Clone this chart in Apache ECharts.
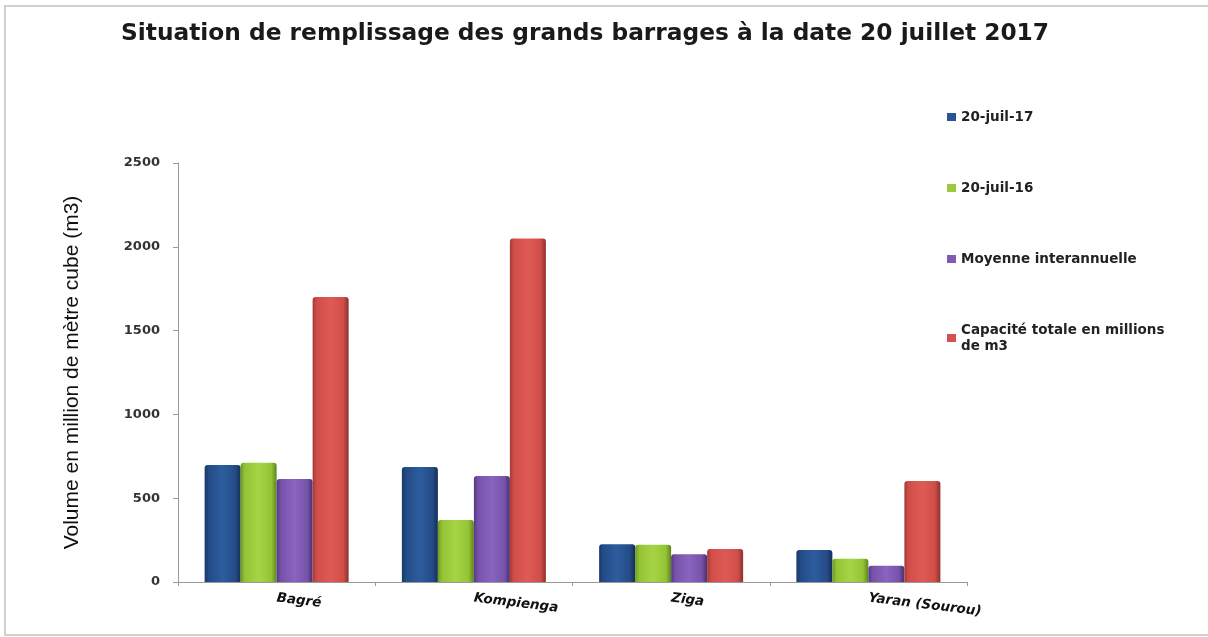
<!DOCTYPE html>
<html>
<head>
<meta charset="utf-8">
<script src="https://cdn.jsdelivr.net/npm/echarts@6/dist/echarts.min.js"></script>
<style>
  html, body { margin: 0; padding: 0; background: #fff; }
  #chart { width: 1208px; height: 637px; }
</style>
</head>
<body>
<div id="chart"></div>
<script>
// Dams and their stored volumes (million m3)
const categories = ['Bagré', 'Kompienga', 'Ziga', 'Yaran (Sourou)'];
const seriesNames = ['20-juil-17', '20-juil-16', 'Moyenne interannuelle', 'Capacité totale en millions de m3'];
const juil17 = [698, 686, 225, 191];
const juil16 = [712, 370, 222, 139];
const moyenne = [614, 632, 165, 97];
const capacite = [1700, 2050, 197, 603];
const yTicks = [0, 500, 1000, 1500, 2000, 2500];

// Bar shading: darker edges, lighter centre for a bevelled look
const palettes = [
  ['#173a6c', '#2d5c9e', '#244c86', '#142f58'],
  ['#6e9a1e', '#a6d444', '#94c436', '#5e8418'],
  ['#553886', '#8a64c0', '#7653aa', '#48306f'],
  ['#a63a36', '#df5a55', '#d04e49', '#8e302c']
];
function shade(p) {
  return {
    type: 'linear', x: 0, y: 0, x2: 1, y2: 0,
    colorStops: [
      { offset: 0, color: p[0] },
      { offset: 0.12, color: p[2] },
      { offset: 0.5, color: p[1] },
      { offset: 0.85, color: p[2] },
      { offset: 1, color: p[3] }
    ]
  };
}
const values = [juil17, juil16, moyenne, capacite];
const legendColors = ['#2a5595', '#9acb3c', '#7f5cb4', '#d55050'];

const chart = echarts.init(document.getElementById('chart'), null, { renderer: 'canvas' });
chart.setOption({
  backgroundColor: '#ffffff',
  animation: false,
  title: {
    text: 'Situation de remplissage des grands barrages à la date 20 juillet 2017',
    left: 116, top: 17,
    textStyle: { fontFamily: 'DejaVu Sans', fontWeight: 'bold', fontSize: 23.3, color: '#1a1a1a' }
  },
  legend: {
    orient: 'vertical',
    left: 942, top: 104,
    itemWidth: 9, itemHeight: 8, itemGap: 55,
    icon: 'rect',
    data: seriesNames.map((n, i) => ({ name: n, itemStyle: { color: legendColors[i] } })),
    formatter: function (n) {
      return n === seriesNames[3] ? 'Capacité totale en millions\nde m3' : n;
    },
    textStyle: { fontFamily: 'DejaVu Sans', fontWeight: 'bold', fontSize: 13.5, color: '#222', lineHeight: 16 }
  },
  grid: { left: 178, right: 241, top: 163, bottom: 55 },
  xAxis: {
    type: 'category',
    data: categories,
    axisLine: { lineStyle: { color: '#999', width: 1 } },
    axisTick: { show: true, length: 4, lineStyle: { color: '#999' } },
    axisLabel: {
      rotate: -7, margin: 16,
      fontFamily: 'DejaVu Sans', fontWeight: 'bold', fontStyle: 'italic', fontSize: 13.5, color: '#111'
    }
  },
  yAxis: {
    type: 'value',
    min: 0, max: 2500, interval: 500,
    name: 'Volume en million de mètre cube (m3)',
    nameLocation: 'middle', nameGap: 95, nameRotate: 90,
    nameTextStyle: { fontFamily: 'Liberation Sans', fontSize: 21, color: '#111' },
    axisLine: { show: true, lineStyle: { color: '#999', width: 1 } },
    axisTick: { show: true, length: 5, lineStyle: { color: '#999' } },
    splitLine: { show: false },
    axisLabel: {
      margin: 18,
      formatter: v => yTicks.includes(v) ? String(v) : '',
      fontFamily: 'DejaVu Sans', fontWeight: 'bold', fontSize: 13, color: '#333'
    }
  },
  series: seriesNames.map((n, i) => ({
    name: n,
    type: 'bar',
    data: values[i],
    barGap: '0%',
    barCategoryGap: '27%',
    itemStyle: { color: shade(palettes[i]), borderRadius: [3, 3, 0, 0] }
  })),
  graphic: [{
    type: 'rect',
    shape: { x: 5, y: 6, width: 1220, height: 629 },
    style: { fill: 'none', stroke: '#cfcfcf', lineWidth: 2 },
    silent: true
  }]
});
</script>
</body>
</html>
